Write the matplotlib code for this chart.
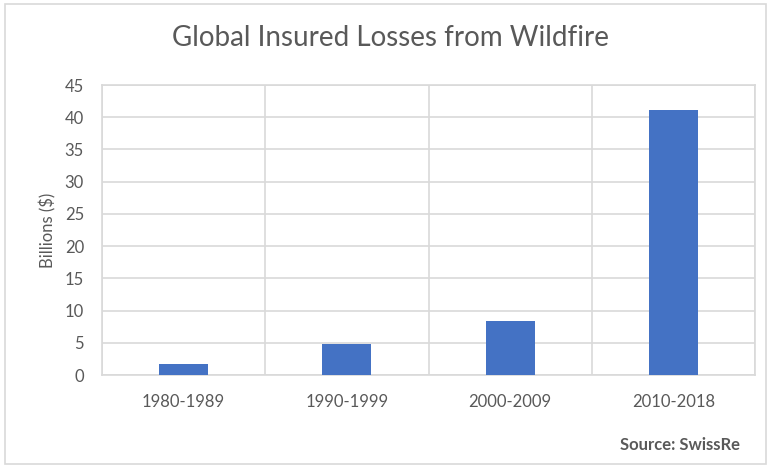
import numpy as np
import matplotlib.pyplot as plt
from matplotlib.patches import Rectangle

# Insured losses by decade (billions of dollars)
decades = ["1980-1989", "1990-1999", "2000-2009", "2010-2018"]
losses = [1.7, 4.8, 8.4, 41.1]
y_ticks = [0, 5, 10, 15, 20, 25, 30, 35, 40, 45]

plt.rcParams['font.family'] = ['Lato', 'DejaVu Sans']
text_gray = "#595959"
grid_gray = "#d9d9d9"

fig = plt.figure(figsize=(7.69, 4.68), dpi=100)
ax = fig.add_axes([102 / 769, 1 - 375 / 468, 653 / 769, 290 / 468])

x = np.arange(len(decades))
ax.bar(x, losses, width=0.3, color="#4472c4", zorder=3)

ax.set_xlim(-0.5, len(decades) - 0.5)
ax.set_ylim(0, 45)
ax.set_yticks(y_ticks)
ax.set_xticks(x)
ax.set_xticklabels(decades)

# horizontal grid plus separators between categories
ax.yaxis.grid(True, color=grid_gray, linewidth=1.2, zorder=0)
ax.set_xticks(np.arange(-0.5, len(decades)), minor=True)
ax.xaxis.grid(True, which="minor", color=grid_gray, linewidth=1.2, zorder=0)
ax.tick_params(which="both", length=0)
ax.tick_params(axis="both", colors=text_gray, labelsize=12)
ax.tick_params(axis="x", pad=14)
ax.tick_params(axis="y", pad=13)
for s in ax.spines.values():
    s.set_color(grid_gray)
    s.set_linewidth(1.2)

ax.set_ylabel("Billions ($)", color=text_gray, fontsize=12, labelpad=6)

fig.text(390 / 769, 1 - 38 / 468, "Global Insured Losses from Wildfire",
         ha="center", va="center", fontsize=20, color=text_gray)
fig.text(740 / 769, 1 - 445 / 468, "Source: SwissRe", ha="right", va="center",
         fontsize=12, fontweight="bold", color=text_gray)

# light frame around the whole chart
fig.patches.append(Rectangle((5 / 769, 4 / 468), 761 / 769, 460 / 468,
                             transform=fig.transFigure, fill=False,
                             edgecolor="#d9d9d9", linewidth=1.2))

fig.savefig("out.png", dpi=100, facecolor="white")
